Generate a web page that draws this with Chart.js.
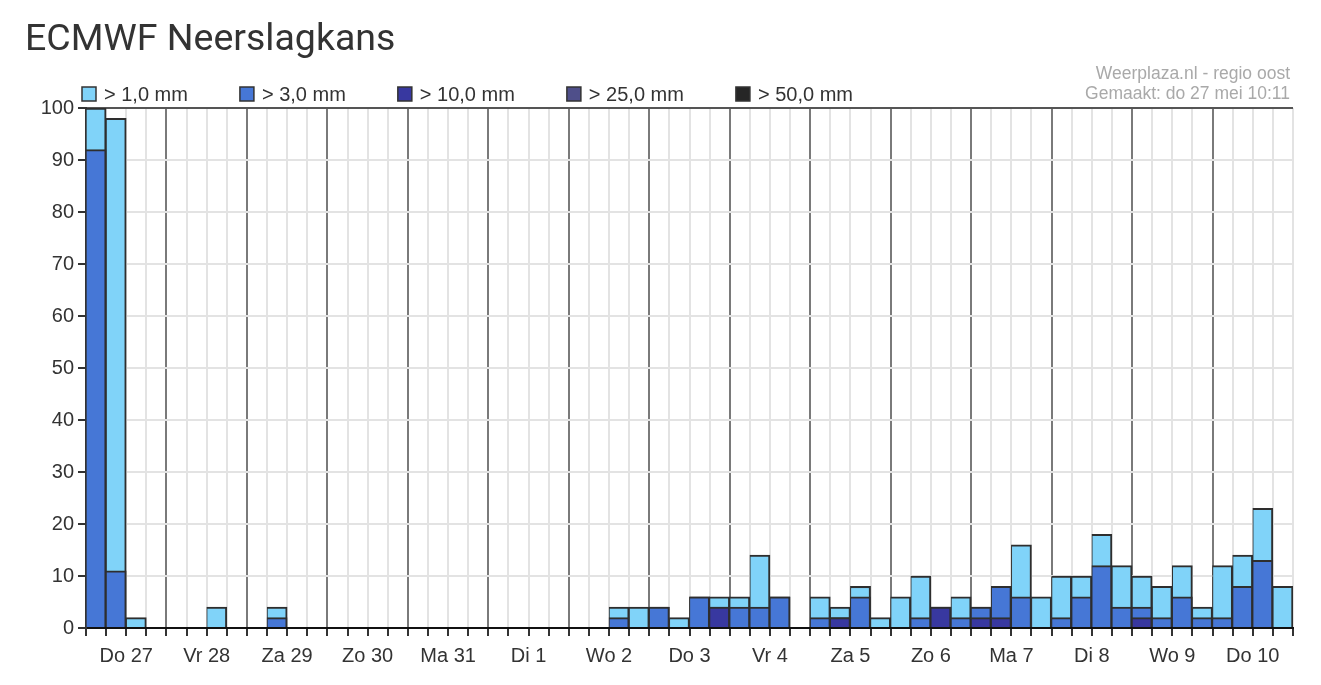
<!DOCTYPE html>
<html>
<head>
<meta charset="utf-8">
<title>ECMWF Neerslagkans</title>
<script src="https://cdn.jsdelivr.net/npm/chart.js@4/dist/chart.umd.min.js"></script>
<style>
  html, body { margin: 0; padding: 0; background: #fff; }
  #wrap { position: relative; width: 1321px; height: 685px; }
  #title { position: absolute; left: 25px; top: 15px; font: 37.5px Roboto, sans-serif; color: #333; }
  #source { position: absolute; right: 31px; top: 63px; text-align: right; font: 17.5px "Liberation Sans", Arial, sans-serif; color: #a9a9a9; line-height: 20px; }
  canvas { position: absolute; left: 0; top: 0; }
</style>
</head>
<body>
<div id="wrap">
  <canvas id="rainChart" width="1321" height="685"></canvas>
  <div id="title">ECMWF Neerslagkans</div>
  <div id="source">Weerplaza.nl - regio oost<br>Gemaakt: do 27 mei 10:11</div>
</div>
<script>
// days shown on the axis, each split in four 6-hour slots
const days = ['Do 27', 'Vr 28', 'Za 29', 'Zo 30', 'Ma 31', 'Di 1', 'Wo 2', 'Do 3', 'Vr 4', 'Za 5', 'Zo 6', 'Ma 7', 'Di 8', 'Wo 9', 'Do 10'];
const hours = ['00', '06', '12', '18'];
const yTicks = [0, 10, 20, 30, 40, 50, 60, 70, 80, 90, 100];

const seriesLabels = ['> 1,0 mm', '> 3,0 mm', '> 10,0 mm', '> 25,0 mm', '> 50,0 mm'];
const seriesColors = ['#80d3f9', '#4677d6', '#3838a0', '#4f4f8a', '#262626'];

// chance in % per slot
const over1 = [
  100, 98, 2, 0,   0, 0, 4, 0,   0, 4, 0, 0,   0, 0, 0, 0,   0, 0, 0, 0,
  0, 0, 0, 0,      0, 0, 4, 4,   4, 2, 6, 6,   6, 14, 6, 0,  6, 4, 8, 2,
  6, 10, 4, 6,     4, 8, 16, 6,  10, 10, 18, 12, 10, 8, 12, 4, 12, 14, 23, 8
];
const over3 = [
  92, 11, 0, 0,    0, 0, 0, 0,   0, 2, 0, 0,   0, 0, 0, 0,   0, 0, 0, 0,
  0, 0, 0, 0,      0, 0, 2, 0,   4, 0, 6, 4,   4, 4, 6, 0,   2, 2, 6, 0,
  0, 2, 4, 2,      4, 8, 6, 0,   2, 6, 12, 4,  4, 2, 6, 2,   2, 8, 13, 0
];
const over10 = [
  0, 0, 0, 0,      0, 0, 0, 0,   0, 0, 0, 0,   0, 0, 0, 0,   0, 0, 0, 0,
  0, 0, 0, 0,      0, 0, 0, 0,   0, 0, 0, 4,   0, 0, 0, 0,   0, 2, 0, 0,
  0, 0, 4, 0,      2, 2, 0, 0,   0, 0, 0, 0,   2, 0, 0, 0,   0, 0, 0, 0
];
const over25 = new Array(60).fill(0);
const over50 = new Array(60).fill(0);

const slotLabels = [];
days.forEach(d => hours.forEach(h => slotLabels.push(d + ' ' + h + 'u')));

const allSeries = [over1, over3, over10, over25, over50];

// the biggest threshold goes first so it is drawn on top
const datasets = allSeries.map((values, i) => ({
  label: seriesLabels[i],
  data: values.map(v => v > 0 ? v : null),
  backgroundColor: seriesColors[i],
  borderColor: '#2e2e2e',
  borderWidth: { top: 2, right: 2, left: 1, bottom: 0 },
  borderSkipped: 'start',
  barPercentage: 1,
  categoryPercentage: 1,
  grouped: false,
  xAxisID: 'x'
})).reverse();

const legendPlugin = {
  id: 'topLegend',
  afterDraw(chart) {
    const ctx = chart.ctx;
    const area = chart.chartArea;
    let x = area.left - 4;
    const y = area.top - 14;
    ctx.save();
    ctx.font = '20px "Liberation Sans", Arial, sans-serif';
    ctx.textBaseline = 'middle';
    seriesLabels.forEach((label, i) => {
      ctx.fillStyle = seriesColors[i];
      ctx.fillRect(x, y - 7, 14, 14);
      ctx.strokeStyle = '#333';
      ctx.lineWidth = 1.5;
      ctx.strokeRect(x, y - 7, 14, 14);
      ctx.fillStyle = '#333';
      ctx.fillText(label, x + 22, y + 1);
      x += 22 + ctx.measureText(label).width + 52;
    });
    ctx.restore();
  }
};

new Chart(document.getElementById('rainChart'), {
  type: 'bar',
  data: { labels: slotLabels, datasets: datasets },
  plugins: [legendPlugin],
  options: {
    responsive: false,
    animation: false,
    layout: { padding: { top: 108, right: 28, bottom: 17, left: 0 } },
    plugins: {
      legend: { display: false },
      tooltip: { enabled: false }
    },
    scales: {
      x: {
        type: 'category',
        offset: true,
        grid: {
          offset: true,
          lineWidth: 2,
          tickLength: 8,
          color: c => c.index % 4 === 0 ? '#7a7a7a' : '#e3e3e3',
          tickColor: '#333'
        },
        border: { color: '#111', width: 2 },
        ticks: { display: false }
      },
      x2: {
        type: 'category',
        labels: days,
        position: 'bottom',
        offset: true,
        grid: { display: false },
        border: { display: false },
        ticks: {
          color: '#333',
          padding: 0,
          font: { family: '"Liberation Sans", Arial, sans-serif', size: 20 },
          maxRotation: 0,
          autoSkip: false
        }
      },
      y: {
        min: 0,
        max: 100,
        afterFit: scale => { scale.width = 86; },
        afterBuildTicks: scale => { scale.ticks = yTicks.map(v => ({ value: v })); },
        grid: {
          lineWidth: 2,
          tickLength: 8,
          color: c => (c.tick && c.tick.value === 100) ? '#555' : (c.tick && c.tick.value === 0 ? '#111' : '#e3e3e3'),
          tickColor: '#333'
        },
        border: { color: '#333', width: 2 },
        ticks: {
          color: '#333',
          padding: 4,
          font: { family: '"Liberation Sans", Arial, sans-serif', size: 20 }
        }
      }
    }
  }
});
</script>
</body>
</html>
